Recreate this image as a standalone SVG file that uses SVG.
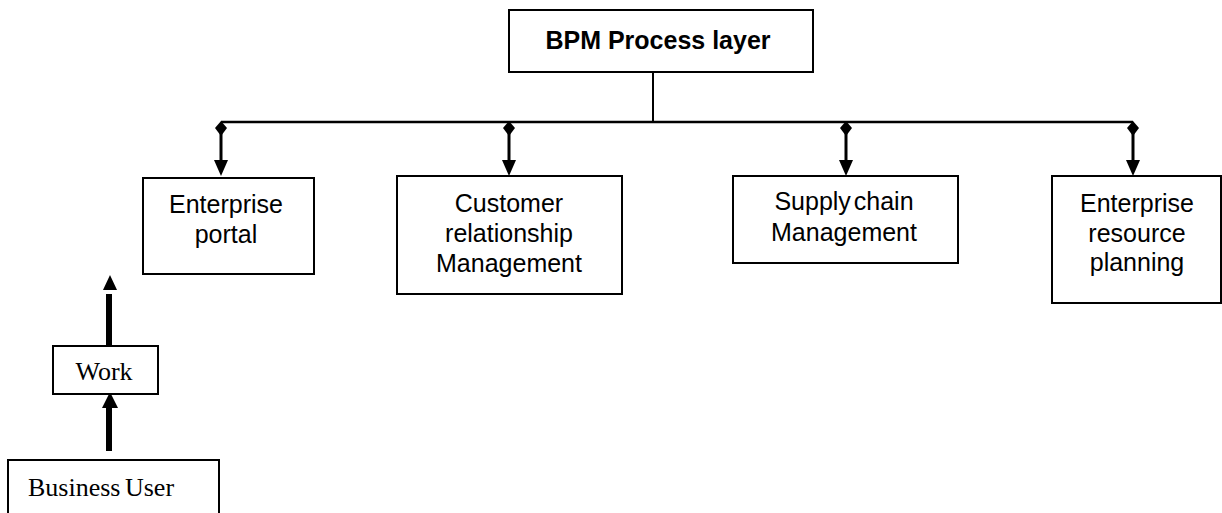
<svg xmlns="http://www.w3.org/2000/svg" width="1222" height="513" viewBox="0 0 1222 513">
<style>
.box{fill:#fff;stroke:#000;stroke-width:2}
.t{font-family:"Liberation Sans",Arial,sans-serif;font-size:25px;text-anchor:middle;fill:#000}
.b{font-weight:bold}
.s{font-family:"Liberation Serif","Times New Roman",serif;font-size:26px;fill:#000}
.ln{stroke:#000;fill:none}
</style>
<defs>
<g id="drop">
<path d="M0,121 L6,128 L0,136 L-6,128 Z" fill="#000"/>
<line x1="0" y1="128" x2="0" y2="163" stroke="#000" stroke-width="3"/>
<path d="M-7,160 L7,160 L0,176 Z" fill="#000"/>
</g>
</defs>
<g id="connectors">
<line class="ln" x1="653" y1="72" x2="653" y2="122" stroke-width="2"/>
<line class="ln" x1="221" y1="122" x2="1133" y2="122" stroke-width="2.5"/>
<use href="#drop" x="221"/>
<use href="#drop" x="509"/>
<use href="#drop" x="846"/>
<use href="#drop" x="1133"/>
<rect x="106" y="294" width="6" height="52" fill="#000"/>
<path d="M103,290 L117,290 L110,275 Z" fill="#000"/>
<rect x="106" y="406" width="6" height="45" fill="#000"/>
<path d="M102,408 L118,408 L110,392 Z" fill="#000"/>
</g>
<g id="bpm">
<rect class="box" x="509" y="10" width="304" height="62"/>
<text class="t b" x="658" y="49" font-size="26">BPM Process layer</text>
</g>
<g id="portal">
<rect class="box" x="143" y="178" width="171" height="96"/>
<text class="t" x="226" y="213">Enterprise</text>
<text class="t" x="226" y="243">portal</text>
</g>
<g id="crm">
<rect class="box" x="397" y="176" width="225" height="118"/>
<text class="t" x="509" y="212">Customer</text>
<text class="t" x="509" y="242">relationship</text>
<text class="t" x="509" y="272">Management</text>
</g>
<g id="scm">
<rect class="box" x="733" y="176" width="225" height="87"/>
<text class="t" x="844" y="210" word-spacing="-4">Supply chain</text>
<text class="t" x="844" y="241">Management</text>
</g>
<g id="erp">
<rect class="box" x="1052" y="176" width="169" height="127"/>
<text class="t" x="1137" y="212">Enterprise</text>
<text class="t" x="1137" y="242">resource</text>
<text class="t" x="1137" y="271">planning</text>
</g>
<g id="work">
<rect class="box" x="53" y="346" width="105" height="48"/>
<text class="s" x="104" y="380" text-anchor="middle">Work</text>
</g>
<g id="user">
<rect class="box" x="8" y="460" width="211" height="60"/>
<text class="s" x="28" y="496" word-spacing="-2">Business User</text>
</g>
</svg>
